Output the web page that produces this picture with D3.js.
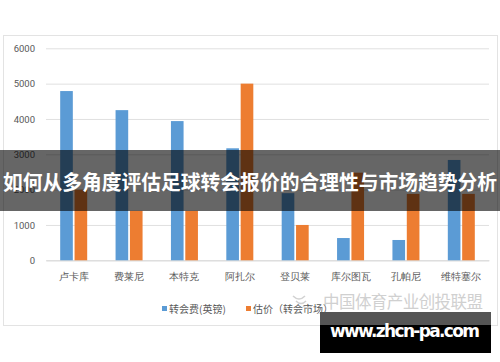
<!DOCTYPE html>
<html>
<head>
<meta charset="utf-8">
<script src="https://cdn.jsdelivr.net/npm/d3@7"></script>
<style>
  body { margin: 0; background: #fff; }
  svg { display: block; font-family: "Noto Sans CJK SC", "Noto Sans", sans-serif; }
</style>
</head>
<body>
<svg id="chart" width="500" height="362"></svg>
<script>
// values
var players = ['卢卡库', '费莱尼', '本特克', '阿扎尔', '登贝莱', '库尔图瓦', '孔帕尼', '维特塞尔']
var fee = [4790, 4250, 3940, 3170, 1900, 630, 575, 2840]
var estimate = [2000, 1400, 1400, 5000, 1000, 2480, 1880, 1880]
var seriesNames = ['转会费(英镑)', '估价（转会市场）']
var yTicks = [0, 1000, 2000, 3000, 4000, 5000, 6000]
var title = '如何从多角度评估足球转会报价的合理性与市场趋势分析'
var watermark = '中国体育产业创投联盟'
var siteText = 'www.zhcn-pa.com'

var colors = ['#5b9bd5', '#ed7d31']

var svg = d3.select('#chart')

// chart frame
svg.append('rect')
  .attr('x', 3.5).attr('y', 35.5)
  .attr('width', 494).attr('height', 290)
  .attr('fill', '#fff')
  .attr('stroke', '#e3e3e3')

var y = d3.scaleLinear().domain([0, 6000]).range([260.3, 48.3])
var x = d3.scaleBand().domain(players).range([46, 489])
var x1 = d3.scaleBand().domain(seriesNames).range([0, 27]).paddingInner(0.12)

var yAxis = svg.append('g')
  .attr('transform', 'translate(46,0)')
  .call(d3.axisLeft(y).tickValues(yTicks).tickSize(-443).tickPadding(11).tickFormat(d3.format('d')))
yAxis.select('.domain').remove()
yAxis.selectAll('line').attr('stroke', '#e0e0e0')
yAxis.selectAll('text').attr('fill', '#595959').style('font-size', '9.5px')
  .style('font-family', 'Roboto, "Noto Sans", sans-serif')

var xAxis = svg.append('g')
  .attr('transform', 'translate(0,' + y(0) + ')')
  .call(d3.axisBottom(x).tickSize(0).tickPadding(13))
xAxis.select('.domain').attr('stroke', '#d9d9d9')
xAxis.selectAll('text').attr('fill', '#595959').style('font-size', '10px')

var rows = players.map(function (p, i) {
  return {name: p, vals: [fee[i], estimate[i]]}
})

var groups = svg.selectAll('g.grp')
  .data(rows)
  .enter()
  .append('g')
  .attr('class', 'grp')
  .attr('transform', function (d) {
    return 'translate(' + (x(d.name) + x.bandwidth() / 2 - 13.5) + ',0)'
  })

groups.selectAll('rect')
  .data(function (d) {
    return d.vals.map(function (v, j) { return {s: seriesNames[j], v: v, j: j} })
  })
  .enter()
  .append('rect')
  .attr('x', function (d) { return x1(d.s) })
  .attr('width', x1.bandwidth())
  .attr('y', function (d) { return y(d.v) })
  .attr('height', function (d) { return y(0) - y(d.v) })
  .attr('fill', function (d) { return colors[d.j] })

// legend
var legend = svg.append('g').attr('transform', 'translate(162,309)')
var legendX = [0, 84]
seriesNames.forEach(function (s, i) {
  legend.append('rect')
    .attr('x', legendX[i]).attr('y', -3)
    .attr('width', 5).attr('height', 5)
    .attr('fill', colors[i])
  legend.append('text')
    .attr('x', legendX[i] + 7).attr('y', 0)
    .attr('dy', '0.35em')
    .attr('fill', '#595959')
    .style('font-size', '10px')
    .text(s)
})

// watermark
svg.append('path')
  .attr('d', 'M293,296 q6,6 12,0 M296,301 q5,5 10,0 M303,306 q4,4 9,0')
  .attr('fill', 'none')
  .attr('stroke', '#d2d2d2')
  .attr('stroke-width', 1.5)
svg.append('text')
  .attr('x', 323).attr('y', 302)
  .attr('dy', '0.35em')
  .attr('fill', '#d0d0d0')
  .attr('textLength', 160)
  .style('font-size', '16.5px')
  .text(watermark)

// title banner
svg.append('rect')
  .attr('x', 0).attr('y', 150)
  .attr('width', 500).attr('height', 61)
  .attr('fill', 'rgba(0,0,0,0.6)')
svg.append('text')
  .attr('x', 250).attr('y', 183)
  .attr('dy', '0.35em')
  .attr('text-anchor', 'middle')
  .attr('fill', '#fff')
  .attr('textLength', 494)
  .attr('lengthAdjust', 'spacingAndGlyphs')
  .style('font-size', '20.5px')
  .style('font-weight', 'bold')
  .text(title)

// site box
svg.append('rect')
  .attr('x', 320).attr('y', 312)
  .attr('width', 171).attr('height', 13)
  .attr('fill', '#555')
svg.append('rect')
  .attr('x', 320).attr('y', 325)
  .attr('width', 171).attr('height', 28)
  .attr('fill', '#000')
svg.append('text')
  .attr('x', 405).attr('y', 331)
  .attr('dy', '0.35em')
  .attr('text-anchor', 'middle')
  .attr('fill', '#fff')
  .attr('textLength', 150)
  .style('font-family', '"DejaVu Sans", sans-serif')
  .style('font-size', '17px')
  .style('font-weight', 'bold')
  .text(siteText)
</script>
</body>
</html>
